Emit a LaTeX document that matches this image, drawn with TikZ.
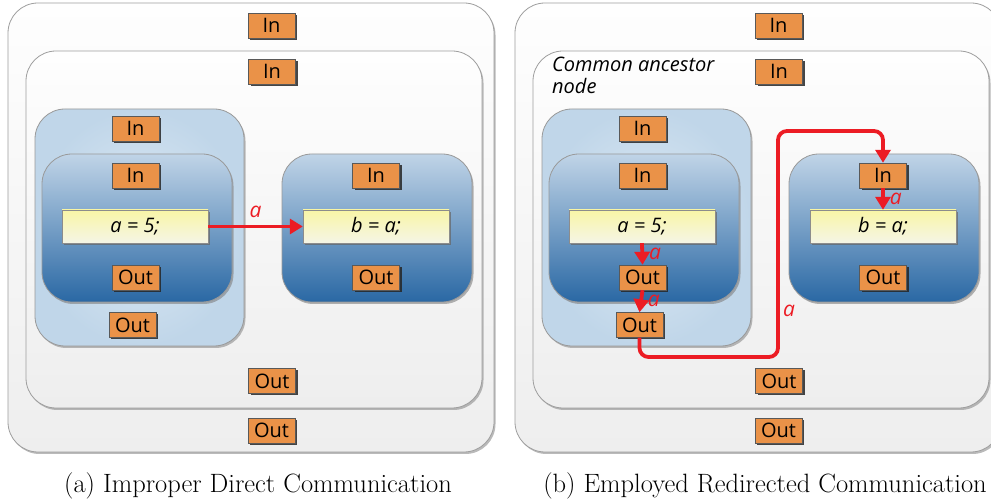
\documentclass[tikz,border=0pt]{standalone}
\usepackage{fontspec}
\setmainfont{Latin Modern Roman}
\newfontfamily\labelfont{Open Sans}
\usetikzlibrary{arrows.meta,shadows,calc}

\definecolor{portorange}{RGB}{234,146,72}
\definecolor{flowred}{RGB}{236,28,36}
\definecolor{darktop}{RGB}{192,212,231}
\definecolor{darkbot}{RGB}{42,104,164}
\definecolor{lightin}{RGB}{222,234,244}
\definecolor{lightout}{RGB}{192,214,233}
\definecolor{codetop}{RGB}{248,245,166}
\definecolor{codebot}{RGB}{245,245,230}
\definecolor{greytop}{RGB}{254,254,254}
\definecolor{greybot}{RGB}{238,238,238}

\tikzset{
  port/.style={draw=black!65, fill=portorange, minimum width=47pt, minimum height=25pt,
    inner sep=0pt, font=\labelfont\fontsize{20}{22}\selectfont,
    drop shadow={shadow xshift=2pt, shadow yshift=-2pt, fill=black!85, opacity=0.85}},
  codebox/.style={draw=black!45, top color=codetop, bottom color=codebot,
    minimum width=146pt, minimum height=33pt, inner sep=0pt,
    font=\labelfont\itshape\fontsize{20}{22}\selectfont,
    drop shadow={shadow xshift=2pt, shadow yshift=-2pt, fill=black!60, opacity=0.7}},
  greybox/.style={draw=black!38, line width=0.8pt, rounded corners=30pt,
    top color=greytop, bottom color=greybot,
    drop shadow={shadow xshift=1.5pt, shadow yshift=-2pt, fill=black!45, opacity=0.6}},
  lightbox/.style={draw=black!40, line width=0.8pt, rounded corners=30pt,
    inner color=lightin, outer color=lightout,
    drop shadow={shadow xshift=1.5pt, shadow yshift=-2pt, fill=black!45, opacity=0.6}},
  darkbox/.style={draw=black!40, line width=0.8pt, rounded corners=30pt,
    top color=darktop, bottom color=darkbot,
    drop shadow={shadow xshift=1.5pt, shadow yshift=-2pt, fill=black!50, opacity=0.6}},
  flow/.style={draw=flowred, line width=3.8pt, -{Triangle[length=13pt,width=15pt]}},
  flowlabel/.style={text=flowred, font=\labelfont\itshape\fontsize{21}{22}\selectfont, inner sep=0pt},
  caption/.style={font=\fontsize{26.5}{30}\selectfont, inner sep=0pt}
}

\begin{document}
\begin{tikzpicture}[x=1pt,y=-1pt]
\clip (0,0) rectangle (991,502);
\fill[white] (0,0) rectangle (991,502);

% ---------- (a) direct communication ----------
\node[greybox, minimum width=486pt, minimum height=449pt] (aTop) at (251,227.5) {};
\node[port] (aTopIn) at (271.5,25.5) {In};
\node[port] (aTopOut) at (271.5,430.5) {Out};
\node[greybox, minimum width=456pt, minimum height=357pt] (aMid) at (254,229.5) {};
\node[port] (aMidIn) at (272,71.5) {In};
\node[port] (aMidOut) at (272,381) {Out};
\node[lightbox, minimum width=209pt, minimum height=237pt] (aLeft) at (139.5,227.5) {};
\node[port] (aLeftIn) at (135.5,128.5) {In};
\node[port] (aLeftOut) at (132.5,325) {Out};
\node[darkbox, minimum width=190pt, minimum height=148pt] (aSrc) at (137,228) {};
\node[port] (aSrcIn) at (135.5,175.5) {In};
\node[codebox] (aSrcCode) at (135,226.5) {a = 5;};
\node[port] (aSrcOut) at (135.5,277.5) {Out};
\node[darkbox, minimum width=190pt, minimum height=148pt] (aDst) at (377,228) {};
\node[port] (aDstIn) at (376,175.5) {In};
\node[codebox] (aDstCode) at (376,226.5) {b = a;};
\node[port] (aDstOut) at (376,277.5) {Out};
\draw[flow] (aSrcCode.east) -- (aDstCode.west)
  node[flowlabel, midway, above=7pt] (aLab) {a};

\node[caption] (aCap) at (258,486) {(a) Improper Direct Communication};

% ---------- (b) redirected communication ----------
\begin{scope}[xshift=507pt]
\node[greybox, minimum width=486pt, minimum height=449pt] (bTop) at (251,227.5) {};
\node[port] (bTopIn) at (271.5,25.5) {In};
\node[port] (bTopOut) at (271.5,430.5) {Out};
\node[greybox, minimum width=456pt, minimum height=357pt] (bMid) at (254,229.5) {};
\node[port] (bMidIn) at (272,71.5) {In};
\node[port] (bMidOut) at (272,381) {Out};
\node[anchor=north west, align=left, inner sep=0pt,
  font=\labelfont\itshape\fontsize{20}{22}\selectfont] (bNote) at (45,57) {Common ancestor\\node};
\node[lightbox, minimum width=209pt, minimum height=237pt] (bLeft) at (139.5,227.5) {};
\node[port] (bLeftIn) at (135.5,128.5) {In};
\node[port] (bLeftOut) at (132.5,325) {Out};
\node[darkbox, minimum width=190pt, minimum height=148pt] (bSrc) at (137,228) {};
\node[port] (bSrcIn) at (135.5,175.5) {In};
\node[codebox] (bSrcCode) at (135,226.5) {a = 5;};
\node[port] (bSrcOut) at (135.5,277.5) {Out};
\node[darkbox, minimum width=190pt, minimum height=148pt] (bDst) at (377,228) {};
\node[port] (bDstIn) at (376,175.5) {In};
\node[codebox] (bDstCode) at (376,226.5) {b = a;};
\node[port] (bDstOut) at (376,277.5) {Out};

\coordinate (bTurnLow) at (271,357);
\coordinate (bTurnHigh) at (271,131);
\draw[flow] (bSrcCode.south) -- (bSrcOut.north)
  node[flowlabel, midway, right=5pt] (bLab1) {a};
\draw[flow] (bSrcOut.south) -- (bLeftOut.north)
  node[flowlabel, midway, right=5pt] (bLab2) {a};
\draw[flow, rounded corners=9pt] (bLeftOut.south) |- (bTurnLow) -- (bTurnHigh) -| (bDstIn.north);
\node[flowlabel, anchor=west] (bLab3) at (276,311) {a};
\draw[flow] (bDstIn.south) -- (bDstCode.north)
  node[flowlabel, midway, right=5pt] (bLab4) {a};
\end{scope}

\node[caption] (bCap) at (765,486) {(b) Employed Redirected Communication};
\end{tikzpicture}
\end{document}
